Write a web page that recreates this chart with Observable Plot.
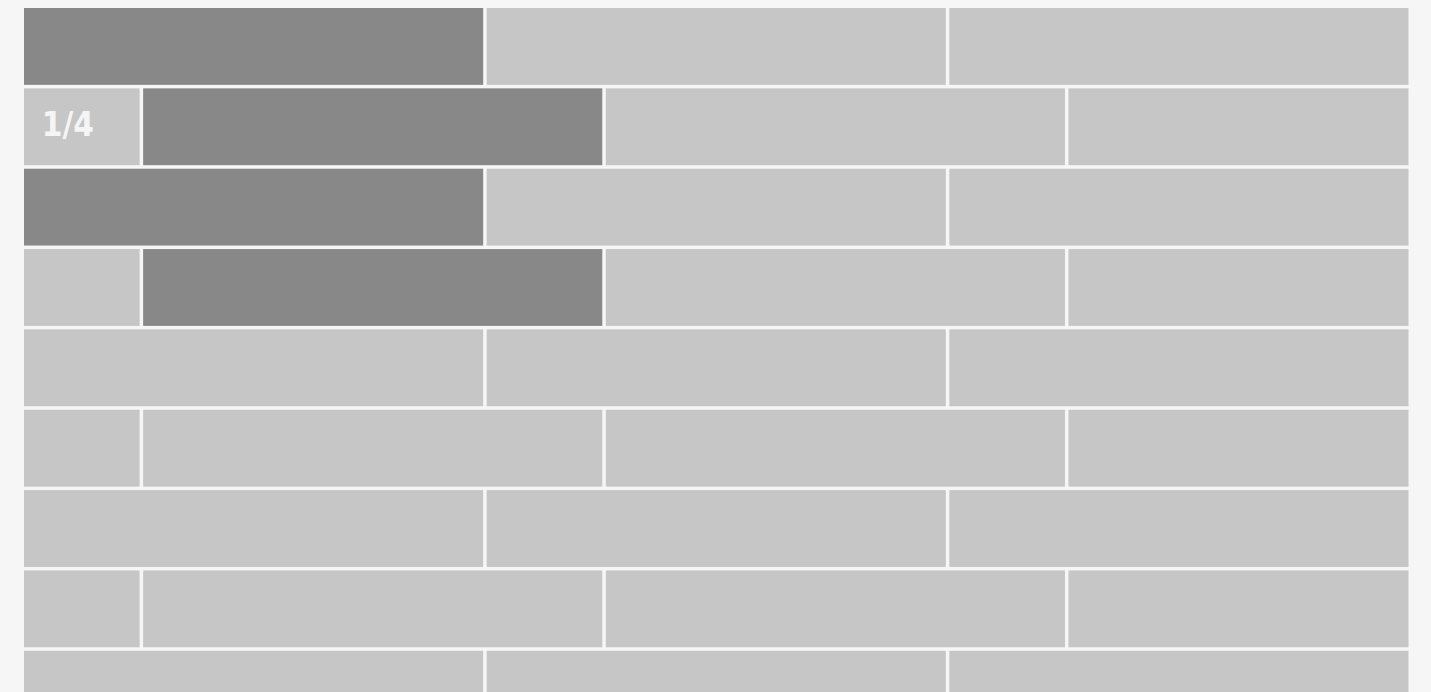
<!DOCTYPE html>
<html>
<head>
<meta charset="utf-8">
<script src="https://cdn.jsdelivr.net/npm/d3@7"></script>
<script src="https://cdn.jsdelivr.net/npm/@observablehq/plot@0.6"></script>
<style>
  html, body { margin: 0; padding: 0; background: #f6f6f6; overflow: hidden; }
  #chart svg { display: block; background: #f6f6f6; }
  #chart svg text { font-stretch: condensed; }
</style>
</head>
<body>
<div id="chart"></div>
<script>
// Rows of the wall (top to bottom), 9 visible
const rowIds = [1, 2, 3, 4, 5, 6, 7, 8, 9];
// Brick edges in brick units for plain rows and for offset rows
const edgesPlain = [0, 1, 2, 3];
const edgesOffset = [0, 0.2575, 1.2575, 2.2575, 3];
// Highlighted bricks: [row, brick index]
const darkBricks = [[1, 0], [2, 1], [3, 0], [4, 1]];
// Label
const labelText = "1/4";
const labelRow = 2;
const labelBrick = 0;

const bricks = [];
rowIds.forEach((r, ri) => {
  const edges = r % 2 === 1 ? edgesPlain : edgesOffset;
  for (let b = 0; b < edges.length - 1; b++) {
    bricks.push({
      row: r,
      brick: b,
      x1: edges[b],
      x2: edges[b + 1],
      y1: ri,
      y2: ri + 1,
      dark: darkBricks.some(([dr, db]) => dr === r && db === b)
    });
  }
});
const labels = bricks
  .filter(d => d.row === labelRow && d.brick === labelBrick)
  .map(d => ({...d, text: labelText}));

const chart = Plot.plot({
  width: 1431,
  height: 740,
  margin: 0,
  x: {domain: [0, 3], range: [22.25, 1410.25], axis: null},
  y: {domain: [0, 9], range: [6.25, 6.25 + 80.35 * 9], axis: null},
  marks: [
    Plot.rect(bricks, {
      x1: "x1", x2: "x2", y1: "y1", y2: "y2",
      fill: d => d.dark ? "#888888" : "#c6c6c6",
      inset: 1.75
    }),
    Plot.text(labels, {
      x: "x1",
      y: d => (d.y1 + d.y2) / 2,
      text: "text",
      dx: 19,
      dy: -1.5,
      textAnchor: "start",
      lineAnchor: "middle",
      fill: "#f5f5f5",
      fontSize: 33,
      fontWeight: "bold",
      fontFamily: "'DejaVu Sans', sans-serif",
      letterSpacing: 2.5
    })
  ]
});
document.getElementById("chart").append(chart);
</script>
</body>
</html>
